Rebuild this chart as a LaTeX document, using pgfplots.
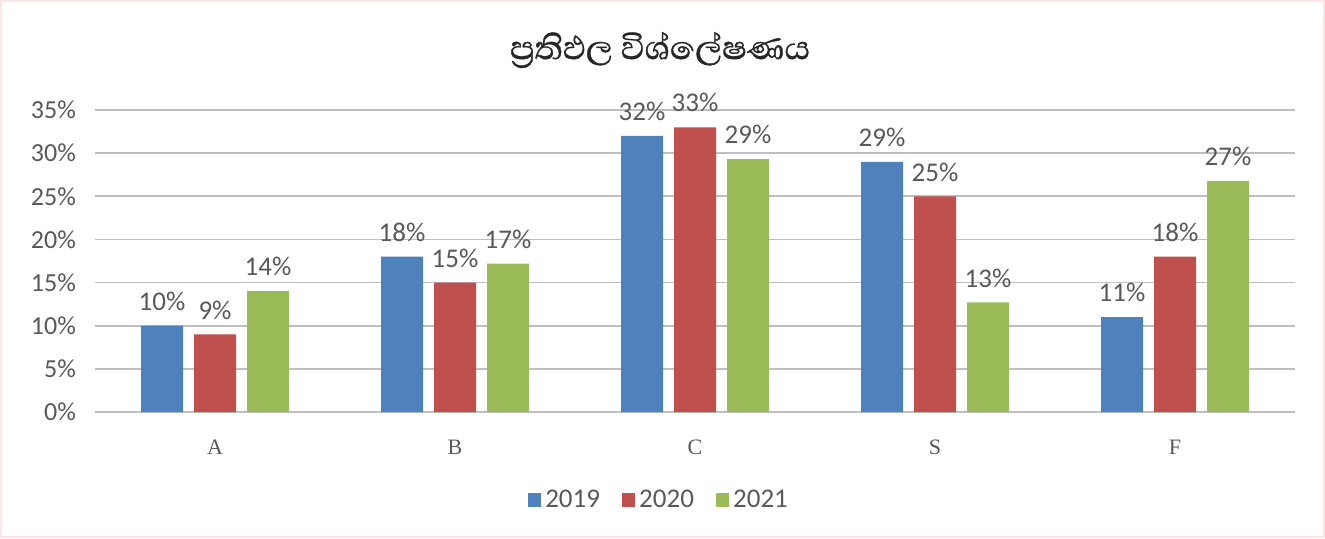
\documentclass[border=0pt]{standalone}
\usepackage{fontspec}
\setmainfont{Carlito}
\newfontfamily\sinhalafont[Script=Sinhala, FakeBold=0.8]{Abhaya Libre}
\newfontfamily\catfont{Liberation Serif}
\usepackage{pgfplots}
\pgfplotsset{compat=1.18}
\definecolor{cblue}{HTML}{4F81BD}
\definecolor{cred}{HTML}{C0504D}
\definecolor{cgreen}{HTML}{9BBB59}
\definecolor{txt}{HTML}{595959}
\definecolor{grid}{HTML}{D9D9D9}
\begin{document}
\begin{tikzpicture}
\fill[white] (-47.5pt,-63pt) rectangle (615pt,206pt);
\useasboundingbox (-47.5pt,-63pt) rectangle (615pt,206pt);
\draw[pink!40, line width=1pt] (-47pt,-62.5pt) rectangle (614.5pt,205.5pt);
\begin{axis}[
  at={(0pt,0pt)}, anchor=south west,
  scale only axis, width=600pt, height=151pt,
  xmin=-0.5, xmax=4.5, ymin=0, ymax=35,
  xtick={0,1,2,3,4}, xticklabels={A,B,C,S,F},
  xticklabel style={font=\catfont\fontsize{11}{13}\selectfont, text=txt, yshift=-6pt},
  ytick={0,5,...,35},
  yticklabel={\pgfmathprintnumber{\tick}\%},
  yticklabel style={font=\fontsize{13}{15}\selectfont, text=txt, xshift=-6pt},
  /pgf/number format/assume math mode=true,
  axis line style={draw=none},
  tick style={draw=none},
  xmajorgrids=false,
  ymajorgrids, grid style={grid, line width=0.8pt},
  ybar=5.5pt, bar width=21pt,
  nodes near coords={\pgfmathprintnumber[fixed,precision=0]{\pgfplotspointmeta}\%},
  nodes near coords style={font=\fontsize{13.5}{15}\selectfont, text=txt, yshift=4pt},
  legend style={at={(282.5pt,-44pt)}, anchor=center, draw=none, fill=none,
    legend columns=3, font=\fontsize{13.5}{15}\selectfont, text=txt,
    /tikz/every odd column/.append style={column sep=0pt},
    /tikz/every even column/.append style={column sep=9pt},
    legend cell align=left},
  legend image code/.code={\fill[#1] (0pt,-3.3pt) rectangle (6.6pt,3.3pt);},
]
\addplot[fill=cblue, draw=none] coordinates {(0,10) (1,18) (2,32) (3,29) (4,11)};
\addplot[fill=cred, draw=none] coordinates {(0,9) (1,15) (2,33) (3,25) (4,18)};
\addplot[fill=cgreen, draw=none] coordinates {(0,14) (1,17.2) (2,29.3) (3,12.7) (4,26.8)};
\legend{2019,2020,2021}
\end{axis}
\node[font=\sinhalafont\fontsize{21}{24}\selectfont, text=black!85] at (282.5pt,181pt) {ප්‍රතිඵල විශ්ලේෂණය};
\end{tikzpicture}
\end{document}
